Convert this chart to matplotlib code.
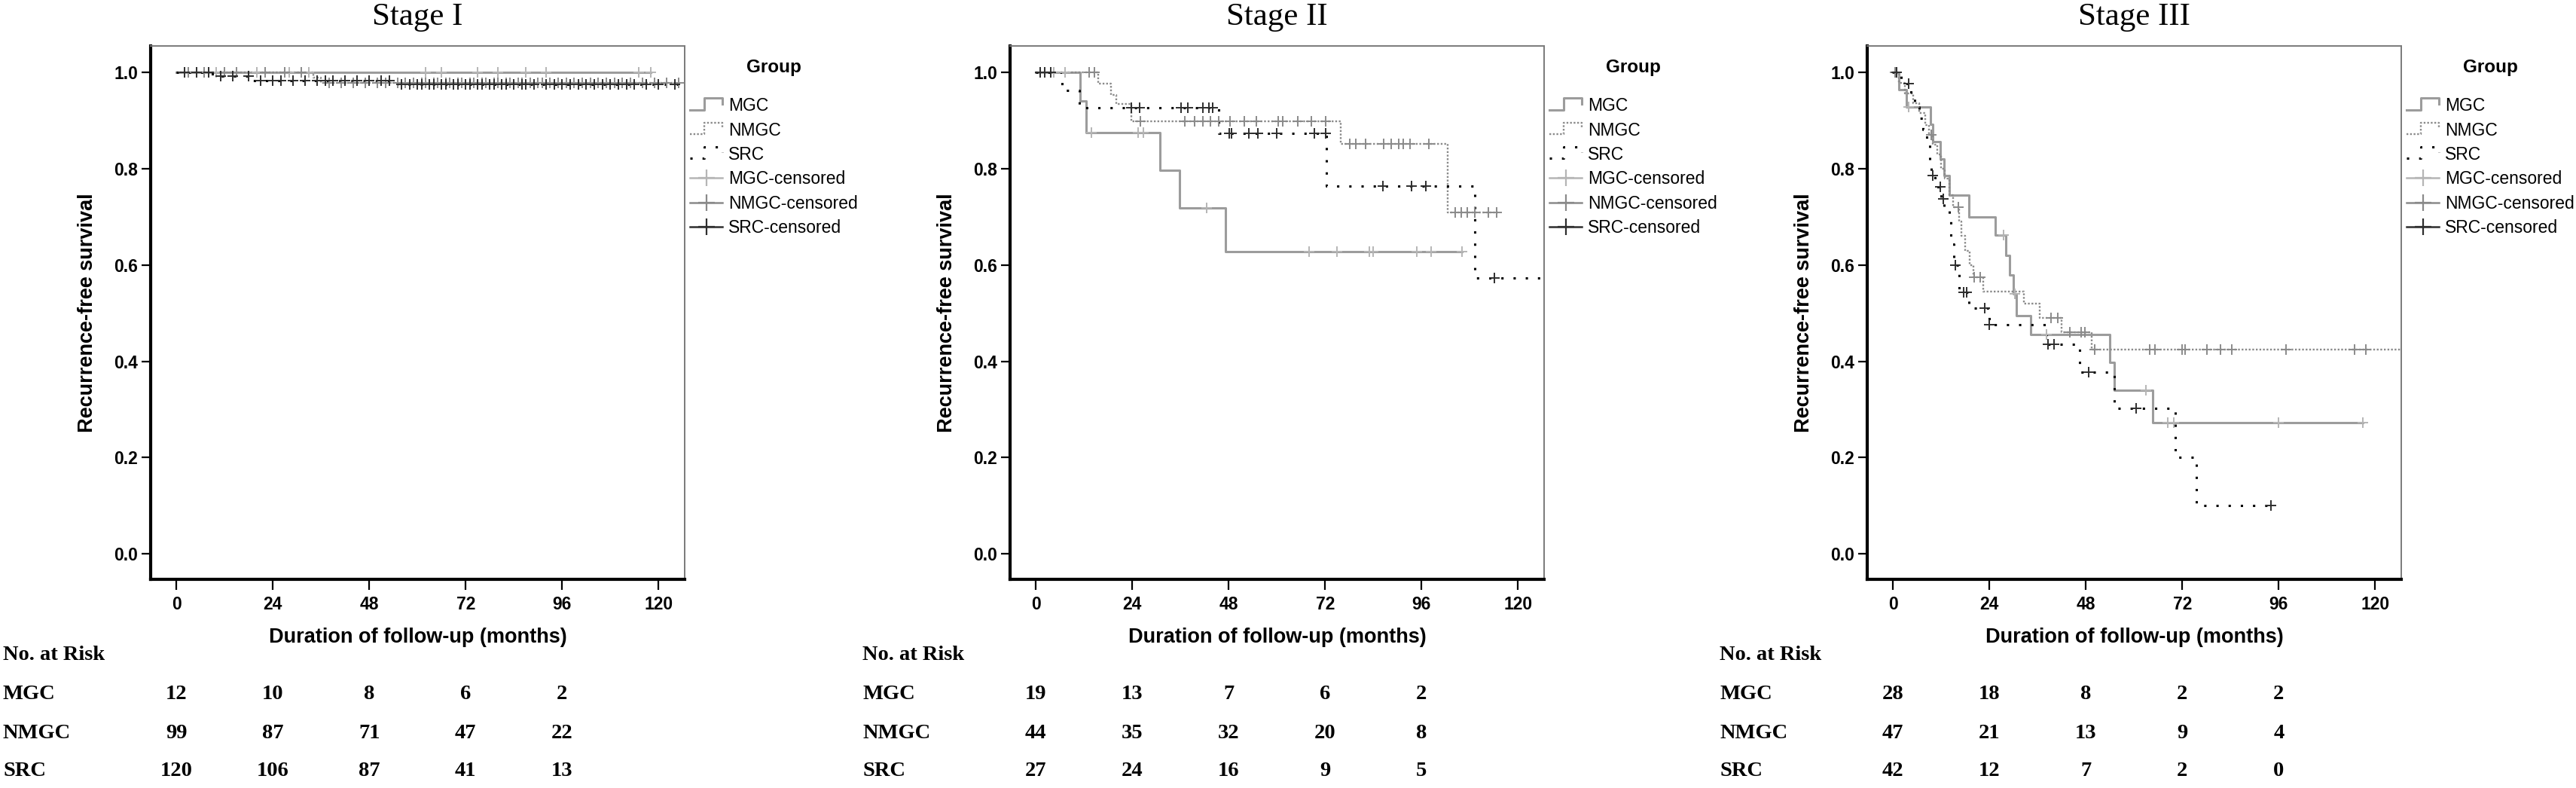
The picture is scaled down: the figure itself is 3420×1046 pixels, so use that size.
import numpy as np
import matplotlib.pyplot as plt
from matplotlib.lines import Line2D
from matplotlib.legend_handler import HandlerBase
from matplotlib.transforms import blended_transform_factory

# ---- data (months, survival) ----
risk_months = [0, 24, 48, 72, 96]
groups = ["MGC", "NMGC", "SRC"]
stage_titles = ["Stage I", "Stage II", "Stage III"]

# Stage I
s1_mgc_t = []
s1_mgc_s = []
s1_mgc_end = 118
s1_mgc_cens = [10, 20, 28, 33, 62, 66, 75, 80, 87, 92, 115, 118]
s1_nmgc_t = [34, 36]
s1_nmgc_s = [0.99, 0.979]
s1_nmgc_end = 125
s1_nmgc_cens = [3, 7, 12, 15, 22, 27, 31, 38, 41, 44, 47, 50, 52, 55, 57, 59, 61, 62,
                64, 65, 67, 68, 70, 71, 73, 74, 76, 77, 79, 80, 82, 83, 85, 86, 88, 90,
                91, 93, 95, 97, 99, 101, 103, 105, 107, 109, 111, 113, 116, 119, 122, 125]
s1_src_t = [9, 18.9, 55]
s1_src_s = [0.992, 0.983, 0.975]
s1_src_end = 127
s1_src_cens = [2, 5, 8, 11, 14, 18, 21, 24, 26, 29, 32, 35, 37, 39, 42, 45, 48, 51, 53,
               56, 58, 60, 61, 63, 64, 66, 67, 69, 70, 72, 73, 75, 76, 78, 79, 81, 82,
               84, 86, 87, 89, 92, 94, 96, 98, 100, 102, 104, 106, 108, 110, 112, 114,
               117, 120, 124]
s1_risk = {"MGC": [12, 10, 8, 6, 2], "NMGC": [99, 87, 71, 47, 22], "SRC": [120, 106, 87, 41, 13]}

# Stage II
s2_mgc_t = [11.1, 12.5, 30.9, 35.7, 47.2]
s2_mgc_s = [0.94, 0.875, 0.797, 0.718, 0.628]
s2_mgc_end = 106
s2_mgc_cens = [4.5, 7.3, 13.9, 25.5, 26.8, 42.5, 68, 75, 83, 84, 94.8, 98.3, 106]
s2_nmgc_t = [15.5, 18.7, 20, 23.8, 75.8, 102.6]
s2_nmgc_s = [0.977, 0.953, 0.934, 0.898, 0.852, 0.709]
s2_nmgc_end = 115
s2_nmgc_cens = [13.2, 14.6, 26, 37, 39.5, 41.5, 43.5, 45.5, 48.3, 51.9, 54.9, 60.3, 61.5,
                65.2, 68.5, 72.1, 78.1, 79.6, 82, 86.5, 88.4, 90.3, 91.4, 93.1, 97.8,
                104.3, 105.8, 107.3, 109.2, 112.7, 114.6]
s2_src_t = [6.6, 10.9, 45.5, 72.4, 109.2]
s2_src_s = [0.963, 0.926, 0.873, 0.764, 0.573]
s2_src_end = 127
s2_src_cens = [1.1, 2.2, 3.7, 23.8, 25.8, 36.1, 37.8, 41.6, 43.1, 44, 48.1, 48.7, 53,
               55.2, 59.9, 69.3, 72.2, 86.3, 93.6, 97, 114.2]
s2_risk = {"MGC": [19, 13, 7, 6, 2], "NMGC": [44, 35, 32, 20, 8], "SRC": [27, 24, 16, 9, 5]}

# Stage III
s3_mgc_t = [1.5, 3.3, 9.4, 10, 11.8, 12.8, 14.1, 18.9, 25.5, 28.1, 29.0, 30.0, 30.8,
            34.3, 54.0, 55.1, 64.6]
s3_mgc_s = [0.964, 0.929, 0.893, 0.857, 0.821, 0.786, 0.745, 0.70, 0.662, 0.62, 0.58,
            0.54, 0.495, 0.455, 0.398, 0.34, 0.272]
s3_mgc_end = 117
s3_mgc_cens = [0.5, 4.0, 27.5, 30.3, 38.3, 63, 68.4, 69.8, 96, 117]
s3_nmgc_t = [1.5, 3, 5, 6.5, 8, 9, 10, 11, 12, 13, 14, 15, 16.5, 17, 18, 19, 20, 22.4,
             32.5, 36.6, 42, 49.5]
s3_nmgc_s = [0.979, 0.957, 0.936, 0.915, 0.89, 0.87, 0.85, 0.83, 0.80, 0.78, 0.745,
             0.72, 0.69, 0.66, 0.63, 0.60, 0.575, 0.545, 0.52, 0.49, 0.46, 0.425]
s3_nmgc_end = 127
s3_nmgc_cens = [0.5, 9.5, 16.2, 20.3, 21.8, 39.3, 41.1, 44, 46.9, 47.8, 50.2, 63.8, 65.2,
                72.0, 72.7, 78.1, 81.5, 84.3, 97.9, 114.9, 117.6]
s3_src_t = [2, 4.5, 5.5, 6.5, 7.5, 8.5, 9.2, 9.6, 10.5, 12, 12.8, 14, 14.5, 15.2, 16.5,
            18.9, 23.9, 38.3, 46.5, 55.1, 70.2, 75.5]
s3_src_s = [0.976, 0.952, 0.929, 0.905, 0.881, 0.857, 0.81, 0.786, 0.762, 0.738, 0.714,
            0.69, 0.643, 0.60, 0.544, 0.51, 0.476, 0.436, 0.377, 0.302, 0.201, 0.10]
s3_src_end = 94
s3_src_cens = [1, 3.9, 10, 11.8, 12.6, 15.6, 17.5, 18.3, 22.9, 24.0, 38.6, 40.1, 48.7,
               60.5, 94]
s3_risk = {"MGC": [28, 18, 8, 2, 2], "NMGC": [47, 21, 13, 9, 4], "SRC": [42, 12, 7, 2, 0]}

panels = [
    {"MGC": (s1_mgc_t, s1_mgc_s, s1_mgc_end, s1_mgc_cens),
     "NMGC": (s1_nmgc_t, s1_nmgc_s, s1_nmgc_end, s1_nmgc_cens),
     "SRC": (s1_src_t, s1_src_s, s1_src_end, s1_src_cens), "risk": s1_risk},
    {"MGC": (s2_mgc_t, s2_mgc_s, s2_mgc_end, s2_mgc_cens),
     "NMGC": (s2_nmgc_t, s2_nmgc_s, s2_nmgc_end, s2_nmgc_cens),
     "SRC": (s2_src_t, s2_src_s, s2_src_end, s2_src_cens), "risk": s2_risk},
    {"MGC": (s3_mgc_t, s3_mgc_s, s3_mgc_end, s3_mgc_cens),
     "NMGC": (s3_nmgc_t, s3_nmgc_s, s3_nmgc_end, s3_nmgc_cens),
     "SRC": (s3_src_t, s3_src_s, s3_src_end, s3_src_cens), "risk": s3_risk},
]

# ---- styles ----
line_style = {
    "MGC": dict(color="#9c9c9c", lw=2.2, ls="-"),
    "NMGC": dict(color="#8a8a8a", lw=1.7, ls=(0, (1, 1))),
    "SRC": dict(color="black", lw=2.2, ls=(0, (1, 4.3))),
}
cens_color = {"MGC": "#b5b5b5", "NMGC": "#8a8a8a", "SRC": "#2e2e2e"}

SANS = "Liberation Sans"
SERIF = "Liberation Serif"


def surv_at(steps_t, steps_s, t):
    i = np.searchsorted(steps_t, t, side="right")
    return 1.0 if i == 0 else steps_s[i - 1]


class StepHandler(HandlerBase):
    # little step icon, like the SPSS legend
    def create_artists(self, legend, orig_handle, xdescent, ydescent, width, height,
                       fontsize, trans):
        x0, y0 = -xdescent, -ydescent
        xs = [x0, x0 + 0.45 * width, x0 + 0.45 * width, x0 + width, x0 + width]
        ys = [y0 + 0.1 * height, y0 + 0.1 * height, y0 + 1.05 * height,
              y0 + 1.05 * height, y0 + 0.6 * height]
        ln = Line2D(xs, ys)
        ln.update_from(orig_handle)
        ln.set_marker("None")
        ln.set_transform(trans)
        return [ln]


fig = plt.figure(figsize=(34.2, 10.46), dpi=100)
W, H = 3420.0, 1046.0
ax_left_px = [200, 1341, 2479]
ax_w_px, ax_top_px, ax_bot_px = 709, 61, 769

for k, pan in enumerate(panels):
    ax = fig.add_axes([ax_left_px[k] / W, 1 - ax_bot_px / H, ax_w_px / W,
                       (ax_bot_px - ax_top_px) / H])

    for g in groups:
        st, ss, end, cens = pan[g]
        xs = [0] + list(st) + [end]
        ys = [1.0] + list(ss) + [ss[-1] if ss else 1.0]
        ax.step(xs, ys, where="post", **line_style[g], zorder=2)
        cy = [surv_at(st, ss, c) for c in cens]
        ax.plot(cens, cy, ls="none", marker="+", ms=10, mew=1.4,
                color=cens_color[g], zorder=3)

    ax.set_xlim(-6.4, 126.5)
    ax.set_ylim(-0.053, 1.055)
    ax.set_xticks([0, 24, 48, 72, 96, 120])
    ax.set_yticks([0.0, 0.2, 0.4, 0.6, 0.8, 1.0])
    ax.set_yticklabels(["%.1f" % v for v in [0.0, 0.2, 0.4, 0.6, 0.8, 1.0]])
    ax.tick_params(axis="both", direction="out", length=9, width=1.6, pad=3,
                   labelsize=16.5)
    for lab in ax.get_xticklabels() + ax.get_yticklabels():
        lab.set_fontfamily(SANS)
        lab.set_fontweight("bold")
    ax.tick_params(axis="x", length=10, pad=6)

    for side in ["left", "bottom"]:
        ax.spines[side].set_linewidth(3.0)
        ax.spines[side].set_color("black")
    for side in ["top", "right"]:
        ax.spines[side].set_linewidth(1.4)
        ax.spines[side].set_color("#7a7a7a")

    ax.set_ylabel("Recurrence-free survival", fontsize=19.5, fontweight="bold",
                  family=SANS)
    ax.yaxis.set_label_coords(-0.10, 0.5)
    ax.set_xlabel("Duration of follow-up (months)", fontsize=19.5, fontweight="bold",
                  family=SANS)
    ax.xaxis.set_label_coords(0.5, -0.09)
    ax.set_title(stage_titles[k], fontsize=31, family=SERIF, pad=20)

    # legend
    handles = []
    for g in groups:
        handles.append(Line2D([], [], **line_style[g]))
    for g in groups:
        handles.append(Line2D([], [], color=cens_color[g], lw=1.8, marker="+",
                              ms=16, mew=1.6))
    labels = groups + [g + "-censored" for g in groups]
    hmap = {h: StepHandler() for h in handles[:3]}
    leg = ax.legend(handles, labels, title="Group", loc="upper left",
                    bbox_to_anchor=(1.0, 0.985), frameon=False, borderaxespad=0,
                    borderpad=0.3, handlelength=1.9, handletextpad=0.35,
                    labelspacing=0.41, numpoints=1, handler_map=hmap,
                    prop={"family": SANS, "size": 16.5})
    leg.get_title().set_fontsize(17.5)
    leg.get_title().set_fontweight("bold")
    leg.get_title().set_family(SANS)
    leg._legend_box.sep = 20

    # number at risk table
    xlab = (4 - 200) / ax_w_px
    tx_data = blended_transform_factory(ax.transData, fig.transFigure)
    tx_axes = blended_transform_factory(ax.transAxes, fig.transFigure)
    fig.text(xlab, 1 - 869 / H, "No. at Risk", transform=tx_axes, ha="left",
             va="center", family=SERIF, fontweight="bold", fontsize=20.5)
    row_y = [1 - 921 / H, 1 - 973 / H, 1 - 1024 / H]
    for g, yy in zip(groups, row_y):
        fig.text(xlab, yy, g, transform=tx_axes, ha="left", va="center",
                 family=SERIF, fontweight="bold", fontsize=20.5)
        for m, n in zip(risk_months, pan["risk"][g]):
            fig.text(m, yy, str(n), transform=tx_data, ha="center", va="center",
                     family=SERIF, fontweight="bold", fontsize=20.5)

fig.savefig("out.png", dpi=100, facecolor="white")
